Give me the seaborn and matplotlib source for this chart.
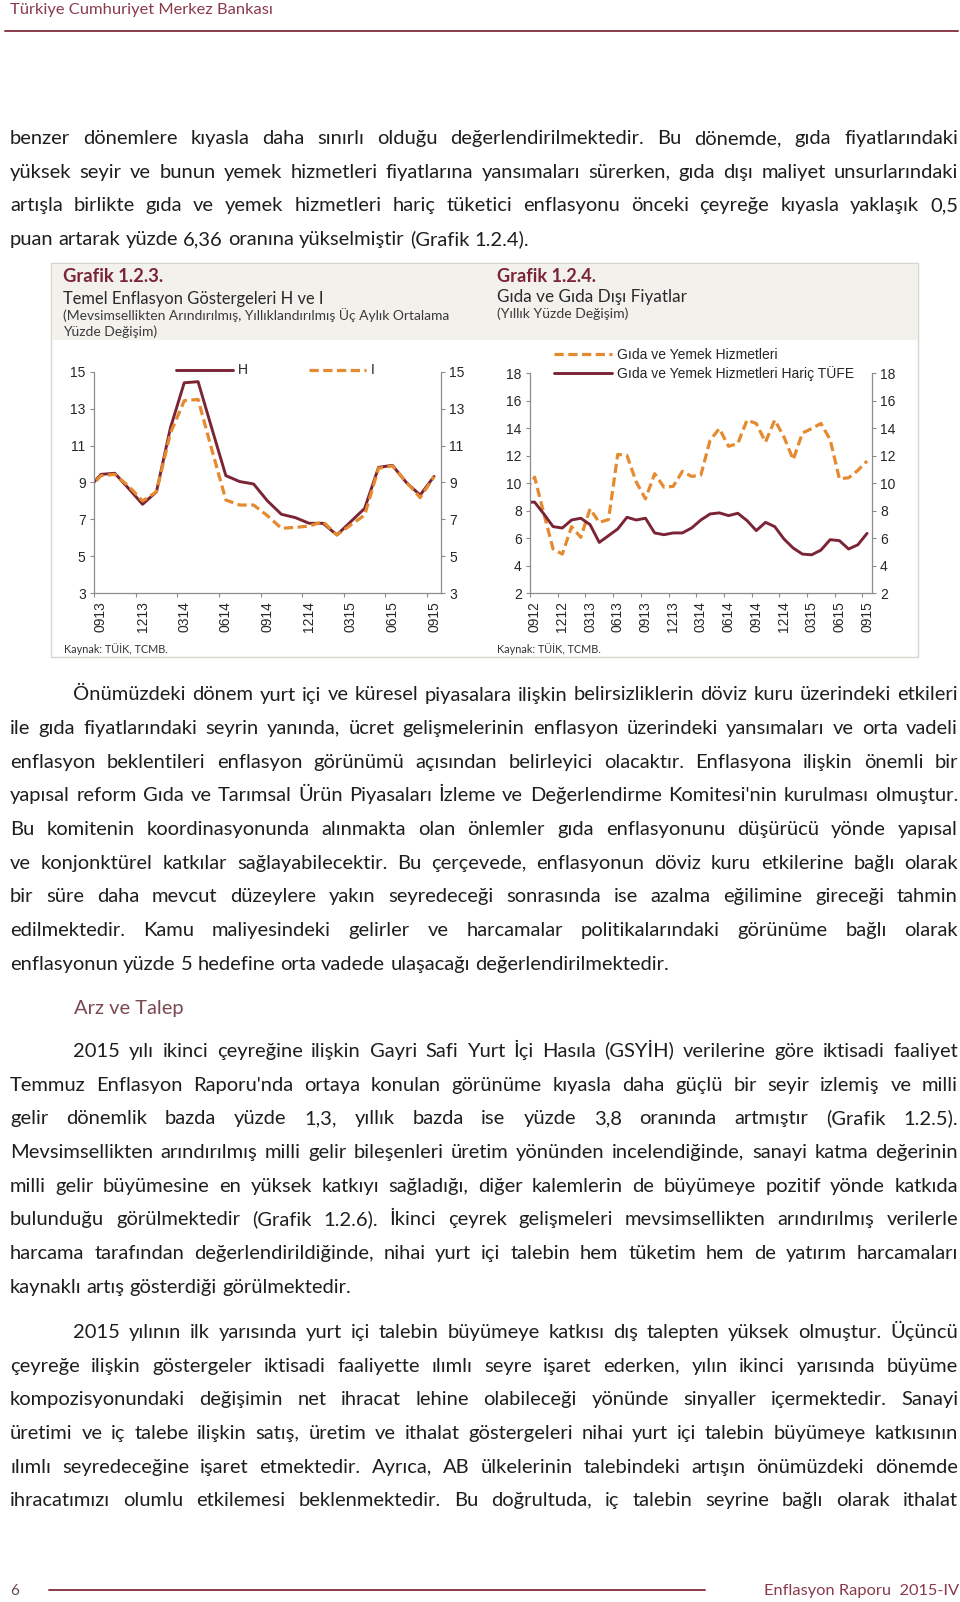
import unicodedata
import matplotlib
matplotlib.use("Agg")
import numpy as np
import matplotlib.pyplot as plt
import seaborn as sns
from matplotlib.font_manager import FontProperties
from matplotlib.patches import Rectangle
from matplotlib.lines import Line2D

# --- chart data ---
# Grafik 1.2.3, monthly 0813..0915 (0813 only feeds the clipped first segment)
h_values = [8.6, 9.44, 9.5, 8.67, 7.82, 8.5, 11.94, 14.4, 14.46, 11.9, 9.37, 9.05, 8.92,
            8.0, 7.28, 7.1, 6.79, 6.79, 6.16, 6.88, 7.6, 9.82, 9.93, 9.0, 8.32, 9.33]
i_values = [8.55, 9.37, 9.44, 8.8, 8.0, 8.5, 11.66, 13.43, 13.5, 10.75, 8.05, 7.78, 7.78,
            7.2, 6.52, 6.57, 6.64, 6.88, 6.16, 6.7, 7.24, 9.77, 9.9, 9.03, 8.18, 9.32]
ticks_123 = ["0913", "1213", "0314", "0614", "0914", "1214", "0315", "0615", "0915"]

# Grafik 1.2.4, monthly 0812..0915 (0812 only feeds the clipped first segment)
food_values = [9.47, 10.45, 7.8, 5.22, 4.85, 6.85, 6.07, 8.14, 7.16, 7.36, 12.1, 12.03, 10.1,
               8.87, 10.7, 9.72, 9.77, 10.87, 10.5, 10.6, 13.13, 13.98, 12.69, 12.89, 14.6,
               14.35, 13.0, 14.6, 13.37, 11.72, 13.66, 13.98, 14.35, 13.18, 10.33, 10.4, 10.94, 11.62]
core_values = [8.63, 8.63, 7.77, 6.85, 6.75, 7.33, 7.46, 7.0, 5.7, 6.19, 6.68, 7.53, 7.33,
               7.46, 6.39, 6.26, 6.39, 6.39, 6.75, 7.33, 7.77, 7.85, 7.65, 7.82, 7.29, 6.56,
               7.16, 6.85, 5.95, 5.29, 4.85, 4.8, 5.14, 5.9, 5.83, 5.22, 5.53, 6.36]
ticks_124 = ["0912", "1212", "0313", "0613", "0913", "1213", "0314", "0614", "0914",
             "1214", "0315", "0615", "0915"]

# --- page text ---
para1 = ["benzer dönemlere kıyasla daha sınırlı olduğu değerlendirilmektedir. Bu dönemde, gıda fiyatlarındaki",
         "yüksek seyir ve bunun yemek hizmetleri fiyatlarına yansımaları sürerken, gıda dışı maliyet unsurlarındaki",
         "artışla birlikte gıda ve yemek hizmetleri hariç tüketici enflasyonu önceki çeyreğe kıyasla yaklaşık 0,5",
         "puan artarak yüzde 6,36 oranına yükselmiştir (Grafik 1.2.4)."]
para2 = ["Önümüzdeki dönem yurt içi ve küresel piyasalara ilişkin belirsizliklerin döviz kuru üzerindeki etkileri",
         "ile gıda fiyatlarındaki seyrin yanında, ücret gelişmelerinin enflasyon üzerindeki yansımaları ve orta vadeli",
         "enflasyon beklentileri enflasyon görünümü açısından belirleyici olacaktır. Enflasyona ilişkin önemli bir",
         "yapısal reform Gıda ve Tarımsal Ürün Piyasaları İzleme ve Değerlendirme Komitesi'nin kurulması olmuştur.",
         "Bu komitenin koordinasyonunda alınmakta olan önlemler gıda enflasyonunu düşürücü yönde yapısal",
         "ve konjonktürel katkılar sağlayabilecektir. Bu çerçevede, enflasyonun döviz kuru etkilerine bağlı olarak",
         "bir süre daha mevcut düzeylere yakın seyredeceği sonrasında ise azalma eğilimine gireceği tahmin",
         "edilmektedir. Kamu maliyesindeki gelirler ve harcamalar politikalarındaki görünüme bağlı olarak",
         "enflasyonun yüzde 5 hedefine orta vadede ulaşacağı değerlendirilmektedir."]
para3 = ["2015 yılı ikinci çeyreğine ilişkin Gayri Safi Yurt İçi Hasıla (GSYİH) verilerine göre iktisadi faaliyet",
         "Temmuz Enflasyon Raporu'nda ortaya konulan görünüme kıyasla daha güçlü bir seyir izlemiş ve milli",
         "gelir dönemlik bazda yüzde 1,3, yıllık bazda ise yüzde 3,8 oranında artmıştır (Grafik 1.2.5).",
         "Mevsimsellikten arındırılmış milli gelir bileşenleri üretim yönünden incelendiğinde, sanayi katma değerinin",
         "milli gelir büyümesine en yüksek katkıyı sağladığı, diğer kalemlerin de büyümeye pozitif yönde katkıda",
         "bulunduğu görülmektedir (Grafik 1.2.6). İkinci çeyrek gelişmeleri mevsimsellikten arındırılmış verilerle",
         "harcama tarafından değerlendirildiğinde, nihai yurt içi talebin hem tüketim hem de yatırım harcamaları",
         "kaynaklı artış gösterdiği görülmektedir."]
para4 = ["2015 yılının ilk yarısında yurt içi talebin büyümeye katkısı dış talepten yüksek olmuştur. Üçüncü",
         "çeyreğe ilişkin göstergeler iktisadi faaliyette ılımlı seyre işaret ederken, yılın ikinci yarısında büyüme",
         "kompozisyonundaki değişimin net ihracat lehine olabileceği yönünde sinyaller içermektedir. Sanayi",
         "üretimi ve iç talebe ilişkin satış, üretim ve ithalat göstergeleri nihai yurt içi talebin büyümeye katkısının",
         "ılımlı seyredeceğine işaret etmektedir. Ayrıca, AB ülkelerinin talebindeki artışın önümüzdeki dönemde",
         "ihracatımızı olumlu etkilemesi beklenmektedir. Bu doğrultuda, iç talebin seyrine bağlı olarak ithalat"]


def clean(s):
    # fold odd spaces / invisible marks so every word is a plain Lato string
    s = unicodedata.normalize("NFKC", s)
    out = []
    for ch in s:
        cat = unicodedata.category(ch)
        if cat.startswith("Z"):
            out.append(" ")
        elif cat.startswith("C"):
            continue
        else:
            out.append(ch)
    return unicodedata.normalize("NFC", "".join(out))


para1, para2, para3, para4 = [[clean(l) for l in p] for p in (para1, para2, para3, para4)]

sns.set_style("white")
plt.rcParams["font.family"] = ["Liberation Sans", "DejaVu Sans"]
TXT = "Lato"

MAROON = "#7b2436"
ORANGE = "#e58a2f"
PAGE_RED = "#8a3b4b"
GRAY = "#8c8c8c"

W, H = 960, 1602
fig = plt.figure(figsize=(9.6, 16.02), dpi=100)
renderer = fig.canvas.get_renderer()


def fx(x):
    return x / W


def fy(y):
    return 1 - y / H


def measure(s, size, weight="normal"):
    prop = FontProperties(family=TXT, size=size, weight=weight)
    return renderer.get_text_width_height_descent(s, prop, ismath=False)


def text_w(s, size, weight="normal"):
    return measure(s, size, weight)[0]


def put(s, x, y, size, color, weight="normal"):
    fig.text(fx(x), fy(y), s, fontsize=size, color=color, family=TXT,
             weight=weight, ha="left", va="baseline")


def fit_text(s, x, y, width, color, weight="normal"):
    size = 10 * width / text_w(s, 10, weight)
    put(s, x, y, size, color, weight)
    return size


# body text: justified line by line
LEFT, RIGHT, INDENT = 10, 958, 73.5
body = [(para1, 144, False, False), (para2, 700.5, True, True),
        (para3, 1057, True, True), (para4, 1338, True, False)]

ratios = []
for lines, _, indent, last_free in body:
    for k, line in enumerate(lines):
        if last_free and k == len(lines) - 1:
            continue
        if lines is para1 and k == len(lines) - 1:
            continue
        x0 = INDENT if (indent and k == 0) else LEFT
        ratios.append((RIGHT - x0) / text_w(line, 10))
BODY_SIZE = min(10 * min(ratios) * 0.99, 15)
space = text_w("a a", BODY_SIZE) - 2 * text_w("a", BODY_SIZE)


def draw_line(line, x0, y, justify):
    words = line.split()
    widths = [text_w(w, BODY_SIZE) for w in words]
    gap = (RIGHT - x0 - sum(widths)) / (len(words) - 1) if justify else space
    x = x0
    for w, wd in zip(words, widths):
        put(w, x, y, BODY_SIZE, "#1e1e1e")
        x += wd + gap


STEP = 33.65
for lines, y0, indent, last_free in body:
    for k, line in enumerate(lines):
        last = k == len(lines) - 1
        just = not (last and (last_free or lines is para1))
        x0 = INDENT if (indent and k == 0) else LEFT
        draw_line(line, x0, y0 + k * STEP, just)

fit_text("Arz ve Talep", 73.5, 1013.5, 110, "#7a4a50")

# header and footer
fit_text("Türkiye Cumhuriyet Merkez Bankası", 10, 14, 263, PAGE_RED)
fig.add_artist(Line2D([fx(5), fx(958)], [fy(31), fy(31)], color=PAGE_RED, lw=1.4))
put("6", 10, 1595, 11, "#6b4a4e")
fig.add_artist(Line2D([fx(49), fx(705)], [fy(1590), fy(1590)], color=PAGE_RED, lw=1.4))
fit_text("Enflasyon Raporu  2015-IV", 764, 1595, 194, PAGE_RED)

# chart box with beige title band
fig.add_artist(Rectangle((fx(51), fy(657)), fx(918) - fx(51), (657 - 263) / H,
                         transform=fig.transFigure, facecolor="white",
                         edgecolor="#d8d5ce", lw=1, zorder=0))
fig.add_artist(Rectangle((fx(51.5), fy(340)), fx(917.5) - fx(51.5), (340 - 263.5) / H,
                         transform=fig.transFigure, facecolor="#f3f1ec",
                         edgecolor="none", zorder=0))

fit_text("Grafik 1.2.3.", 63, 282, 100, MAROON, weight="bold")
fit_text("Temel Enflasyon Göstergeleri H ve I", 63, 304, 260, "#2a2a2a")
sub = fit_text("(Mevsimsellikten Arındırılmış, Yıllıklandırılmış Üç Aylık Ortalama",
               63, 320, 386, "#3a3a3a")
put("Yüzde Değişim)", 63, 336, sub, "#3a3a3a")
fit_text("Kaynak: TÜİK, TCMB.", 64, 653, 104, "#333333")

fit_text("Grafik 1.2.4.", 497, 282, 99, MAROON, weight="bold")
fit_text("Gıda ve Gıda Dışı Fiyatlar", 497, 302, 189, "#2a2a2a")
fit_text("(Yıllık Yüzde Değişim)", 497, 317.5, 131, "#3a3a3a")
fit_text("Kaynak: TÜİK, TCMB.", 497, 653, 104, "#333333")

FS = 10


def style_axis(ax, ymin, ymax, labels):
    n = len(labels) * 3 - 2
    ax.set_xlim(-0.5, n - 0.5)
    ax.set_ylim(ymin, ymax)
    ax.set_yticks(np.arange(ymin, ymax + 1, 2))
    ax.set_xticks(np.arange(-0.5, n - 1, 3))
    ax.set_xticks(np.arange(0, n, 3), labels=labels, minor=True)
    ax.tick_params(axis="x", which="major", length=3, direction="out", color=GRAY,
                   width=0.8, labelbottom=False, bottom=True)
    ax.tick_params(axis="x", which="minor", length=0, pad=5.5, labelsize=FS,
                   labelrotation=90, bottom=True)
    ax.tick_params(axis="y", left=True, right=True, labelleft=True, labelright=True,
                   length=3, direction="out", color=GRAY, width=0.8, labelsize=FS, pad=3)
    for side in ["left", "right", "bottom"]:
        ax.spines[side].set_visible(True)
        ax.spines[side].set_color(GRAY)
        ax.spines[side].set_linewidth(0.9)
    ax.spines["top"].set_visible(False)
    ax.set_xlabel("")
    ax.set_ylabel("")
    ax.grid(False)
    ax.patch.set_alpha(0)


# Grafik 1.2.3
ax1 = fig.add_axes([fx(94), fy(593.3), (441 - 94) / W, (593.3 - 371.7) / H])
x123 = np.arange(len(h_values)) - 1
sns.lineplot(x=x123, y=h_values, ax=ax1, color=MAROON, lw=2.1, label="H")
sns.lineplot(x=x123, y=i_values, ax=ax1, color=ORANGE, lw=2.3, label="I")
ax1.lines[1].set_dashes((2.9, 1.4))
style_axis(ax1, 3, 15, ticks_123)
hd, lb = ax1.get_legend_handles_labels()
ax1.legend(hd, lb, ncol=2, frameon=False, loc="center left",
           bbox_to_anchor=(fx(170), fy(370.5)), bbox_transform=fig.transFigure,
           handlelength=4.1, handletextpad=0.38, columnspacing=4.4,
           borderaxespad=0, fontsize=FS)

# Grafik 1.2.4
ax2 = fig.add_axes([fx(530), fy(593.3), (871.7 - 530) / W, (593.3 - 373.3) / H])
x124 = np.arange(len(food_values)) - 1
sns.lineplot(x=x124, y=food_values, ax=ax2, color=ORANGE, lw=2.3,
             label="Gıda ve Yemek Hizmetleri")
sns.lineplot(x=x124, y=core_values, ax=ax2, color=MAROON, lw=2.1,
             label="Gıda ve Yemek Hizmetleri Hariç TÜFE")
ax2.lines[0].set_dashes((2.9, 1.4))
style_axis(ax2, 2, 18, ticks_124)
hd, lb = ax2.get_legend_handles_labels()
ax2.legend(hd, lb, ncol=1, frameon=False, loc="center left",
           bbox_to_anchor=(fx(548), fy(364.5)), bbox_transform=fig.transFigure,
           handlelength=4.2, handletextpad=0.38, labelspacing=0.3,
           borderaxespad=0, fontsize=FS)

fig.savefig("out.png", dpi=100, facecolor="white")
